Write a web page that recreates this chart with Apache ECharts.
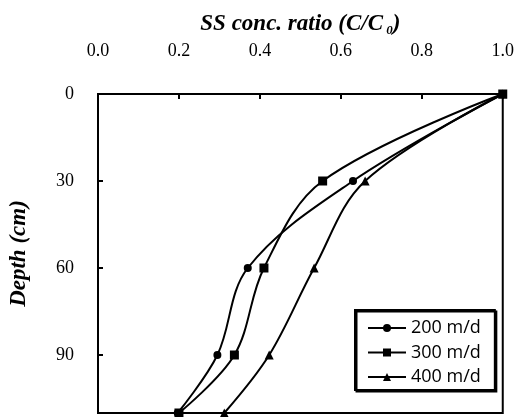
<!DOCTYPE html>
<html>
<head>
<meta charset="utf-8">
<script src="https://cdn.jsdelivr.net/npm/echarts@6/dist/echarts.min.js"></script>
<style>
  html, body { margin: 0; padding: 0; background: #fff; }
  #chart { width: 517px; height: 417px; }
</style>
</head>
<body>
<div id="chart"></div>
<script>
// depth of each sampling point (cm)
const depths = [0, 30, 60, 90, 110]
const seriesNames = ['200 m/d', '300 m/d', '400 m/d']
const ratio200 = [1.0, 0.63, 0.37, 0.295, 0.197]
const ratio300 = [1.0, 0.555, 0.41, 0.337, 0.2]
const ratio400 = [1.0, 0.66, 0.534, 0.423, 0.312]
const depthTicks = [0, 30, 60, 90]

const serif = 'Liberation Serif, Times New Roman, serif'

function pairs(values) {
  return values.map((v, i) => [v, depths[i]])
}

const chart = echarts.init(document.getElementById('chart'))

const lineSeries = (name, data, symbol, size) => ({
  name: name,
  type: 'line',
  data: pairs(data),
  smooth: 0.35,
  symbol: symbol,
  symbolSize: size,
  color: '#000',
  lineStyle: { color: '#000', width: 2 },
  itemStyle: { color: '#000' }
})

chart.setOption({
  animation: false,
  backgroundColor: '#fff',
  grid: {
    left: 96,
    top: 94,
    right: 12,
    bottom: 4,
    show: true,
    borderColor: '#000',
    borderWidth: 2
  },
  legend: {
    orient: 'vertical',
    left: 355,
    top: 310,
    padding: [9, 14, 4, 12],
    itemGap: 6.5,
    itemWidth: 38,
    itemHeight: 10,
    borderColor: '#000',
    borderWidth: 2,
    backgroundColor: '#fff',
    shadowColor: '#000',
    shadowOffsetX: 1.5,
    shadowOffsetY: 1.5,
    data: seriesNames,
    textStyle: {
      fontFamily: 'Open Sans, sans-serif',
      fontSize: 18,
      lineHeight: 18,
      color: '#000'
    }
  },
  xAxis: {
    type: 'value',
    position: 'top',
    min: 0,
    max: 1,
    interval: 0.2,
    name: '{a|SS conc. ratio (C/C}{s| 0}{a|)}',
    nameLocation: 'middle',
    nameGap: 57,
    nameTextStyle: {
      rich: {
        a: { fontFamily: serif, fontSize: 23, fontWeight: 'bold', fontStyle: 'italic', color: '#000' },
        s: { fontFamily: serif, fontSize: 13, fontWeight: 'bold', fontStyle: 'italic', color: '#000', padding: [12, 0, 0, 0] }
      }
    },
    axisLine: { show: true, lineStyle: { color: '#000', width: 2 } },
    axisTick: { show: true, inside: true, length: 5, lineStyle: { color: '#000', width: 2 } },
    axisLabel: {
      margin: 34,
      fontFamily: serif,
      fontSize: 18,
      color: '#000',
      formatter: (v) => v.toFixed(1)
    },
    splitLine: { show: false }
  },
  yAxis: {
    type: 'value',
    inverse: true,
    min: 0,
    max: 110,
    interval: 30,
    name: 'Depth (cm)',
    nameLocation: 'middle',
    nameGap: 67,
    nameTextStyle: {
      fontFamily: serif,
      fontSize: 23,
      fontWeight: 'bold',
      fontStyle: 'italic',
      color: '#000'
    },
    axisLine: { show: true, lineStyle: { color: '#000', width: 2 } },
    axisTick: { show: true, inside: true, length: 5, lineStyle: { color: '#000', width: 2 } },
    axisLabel: {
      margin: 24,
      fontFamily: serif,
      fontSize: 18,
      color: '#000',
      formatter: (v) => (depthTicks.indexOf(v) >= 0 ? String(v) : '')
    },
    splitLine: { show: false }
  },
  series: [
    lineSeries(seriesNames[0], ratio200, 'circle', 8),
    lineSeries(seriesNames[1], ratio300, 'rect', 9),
    lineSeries(seriesNames[2], ratio400, 'triangle', 9)
  ]
})
</script>
</body>
</html>
